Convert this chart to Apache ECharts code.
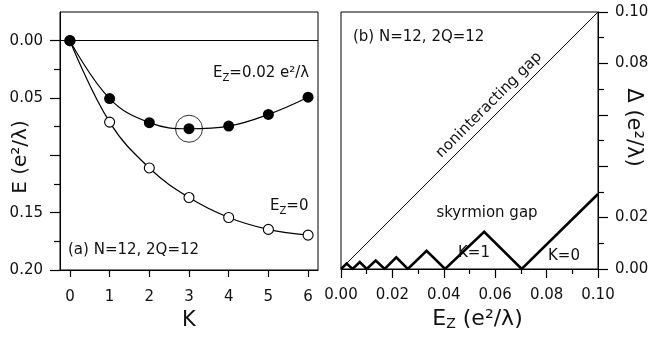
<!DOCTYPE html>
<html><head><meta charset="utf-8">
<script src="https://cdn.jsdelivr.net/npm/echarts@6/dist/echarts.min.js"></script>
<style>html,body{margin:0;padding:0;background:#fff}#c{width:650px;height:339px}</style>
</head><body><div id="c"></div>
<script>
// ---- Panel (a): energy vs K ----
const K = [0, 1, 2, 3, 4, 5, 6];
const E_ez002 = [0, 0.0505, 0.0715, 0.0768, 0.0745, 0.0643, 0.0493];
const E_ez0 = [0, 0.071, 0.111, 0.1368, 0.1542, 0.1646, 0.1696];
const minimumK = 3;
const leftYLabels = [0, 0.05, 0.15, 0.20];
const leftYMajor = [0, 0.05, 0.10, 0.15, 0.20];
const leftYMinor = [0.025, 0.075, 0.125, 0.175];
// ---- Panel (b): gaps vs Ez ----
const Ez_sky = [0, 0.0022, 0.0045, 0.0073, 0.010, 0.0135, 0.017, 0.0215, 0.026, 0.0333, 0.0405, 0.0557, 0.0703, 0.1];
const gap_sky = [0, 0.0021, 0, 0.0027, 0, 0.0033, 0, 0.0045, 0, 0.0071, 0, 0.0145, 0, 0.0292];
const Ez_nonint = [0, 0.1];
const gap_nonint = [0, 0.1];
const rightYLabels = [0, 0.02, 0.08, 0.10];

const FF = '"DejaVu Sans", sans-serif';
const C = '#111';
const chart = echarts.init(document.getElementById('c'), null, {renderer: 'canvas'});

const lbl = (extra) => Object.assign({color: C, fontFamily: FF, fontSize: 15}, extra || {});
const subRich = (fs, sub, drop) => ({
  m: {fontSize: fs, fontFamily: FF, color: C, fill: C, lineHeight: fs + 1, verticalAlign: 'top'},
  s: {fontSize: sub, fontFamily: FF, color: C, fill: C, lineHeight: sub, padding: [drop, 0, 0, 0], verticalAlign: 'top'}
});

const option = {
  animation: false,
  backgroundColor: '#fff',
  grid: [
    {left: 60, top: 12, width: 258, height: 258, show: true, borderColor: '#000', borderWidth: 1, outerBoundsMode: 'none', containLabel: false},
    {left: 341, top: 12, width: 257, height: 257, show: true, borderColor: '#000', borderWidth: 1, outerBoundsMode: 'none', containLabel: false}
  ],
  xAxis: [
    {gridIndex: 0, type: 'value', min: -0.25, max: 6.25,
     axisLine: {show: true, onZero: false, lineStyle: {color: '#000', width: 1}},
     axisTick: {show: true, customValues: K, length: 7, lineStyle: {color: '#000', width: 1.2}},
     axisLabel: {customValues: K, margin: 20, ...lbl(), formatter: v => String(Math.round(v))},
     splitLine: {show: false},
     name: 'K', nameLocation: 'middle', nameGap: 40, nameMoveOverlap: false,
     nameTextStyle: {fontFamily: FF, fontSize: 21, color: C}},
    {gridIndex: 1, type: 'value', min: 0, max: 0.1, interval: 0.02,
     axisLine: {show: true, onZero: false, lineStyle: {color: '#000', width: 1}},
     axisTick: {show: true, length: 9, lineStyle: {color: '#000', width: 1.2}},
     minorTick: {show: true, splitNumber: 2, length: 5, lineStyle: {color: '#000', width: 1.2}},
     axisLabel: {margin: 19, showMinLabel: true, showMaxLabel: true, ...lbl(), formatter: v => v.toFixed(2)},
     splitLine: {show: false}, minorSplitLine: {show: false},
     name: '{m|E}{s|Z}{m| (e²/λ)}', nameLocation: 'middle', nameGap: 39, nameMoveOverlap: false,
     nameTextStyle: {padding: [0, 0, 0, 16], rich: subRich(22, 14, 9)}}
  ],
  yAxis: [
    {gridIndex: 0, type: 'value', inverse: true, min: -0.025, max: 0.2, position: 'left', offset: 0,
     axisLine: {show: true, onZero: false, lineStyle: {color: '#000', width: 1}},
     axisTick: {show: true, customValues: leftYMajor, length: 10, lineStyle: {color: '#000', width: 1.2}},
     axisLabel: {customValues: leftYLabels, margin: 17, ...lbl(), formatter: v => v.toFixed(2)},
     splitLine: {show: false},
     name: 'E (e²/λ)', nameLocation: 'middle', nameGap: 29, nameMoveOverlap: false,
     nameTextStyle: {fontFamily: FF, fontSize: 20, color: C, padding: [0, 32, 0, 0]}},
    {gridIndex: 0, type: 'value', inverse: true, min: -0.025, max: 0.2, position: 'left', offset: 0,
     axisLine: {show: false, onZero: false},
     axisTick: {show: true, customValues: leftYMinor, length: 6, lineStyle: {color: '#000', width: 1.2}},
     axisLabel: {show: false}, splitLine: {show: false}},
    {gridIndex: 1, type: 'value', min: 0, max: 0.1, interval: 0.02, position: 'right',
     axisLine: {show: true, onZero: false, lineStyle: {color: '#000', width: 1}},
     axisTick: {show: true, length: 10, lineStyle: {color: '#000', width: 1.2}},
     minorTick: {show: true, splitNumber: 2, length: 6, lineStyle: {color: '#000', width: 1.2}},
     axisLabel: {customValues: rightYLabels, margin: 17, ...lbl(), formatter: v => v.toFixed(2)},
     splitLine: {show: false}, minorSplitLine: {show: false},
     name: 'Δ (e²/λ)', nameLocation: 'middle', nameGap: 25, nameRotate: -90, nameMoveOverlap: false,
     nameTextStyle: {fontFamily: FF, fontSize: 21, color: C, padding: [0, 26, 0, 0]}}
  ],
  series: [
    {type: 'line', xAxisIndex: 0, yAxisIndex: 0, smooth: 0.4,
     data: K.map((k, i) => [k, E_ez0[i]]),
     symbol: 'circle', symbolSize: 10,
     itemStyle: {color: '#fff', borderColor: '#000', borderWidth: 1.1}, lineStyle: {color: '#000', width: 1.2},
     markLine: {silent: true, symbol: 'none', label: {show: false},
                lineStyle: {color: '#000', width: 1, type: 'solid'}, data: [{yAxis: 0}]}},
    {type: 'line', xAxisIndex: 0, yAxisIndex: 0, smooth: 0.4,
     data: K.map((k, i) => [k, E_ez002[i]]),
     symbol: 'circle', symbolSize: 11,
     itemStyle: {color: '#000'}, lineStyle: {color: '#000', width: 1.2}},
    {type: 'scatter', xAxisIndex: 0, yAxisIndex: 0, z: 5,
     data: [[minimumK, E_ez002[K.indexOf(minimumK)]]],
     symbol: 'circle', symbolSize: 27,
     itemStyle: {color: 'rgba(0,0,0,0)', borderColor: '#000', borderWidth: 1}},
    {type: 'line', xAxisIndex: 1, yAxisIndex: 2, symbol: 'none',
     data: Ez_nonint.map((x, i) => [x, gap_nonint[i]]),
     lineStyle: {color: '#000', width: 1}},
    {type: 'line', xAxisIndex: 1, yAxisIndex: 2, symbol: 'none',
     data: Ez_sky.map((x, i) => [x, gap_sky[i]]),
     lineStyle: {color: '#000', width: 2.6, join: 'miter'}}
  ],
  graphic: [
    {type: 'text', x: 213, y: 66, style: {text: '{m|E}{s|Z}{m|=0.02 e²/λ}', rich: subRich(15, 10, 7), fill: C}},
    {type: 'text', x: 270, y: 199, style: {text: '{m|E}{s|Z}{m|=0}', rich: subRich(15, 10, 7), fill: C}},
    {type: 'text', x: 68, y: 250, style: {text: '(a) N=12, 2Q=12', font: '15px ' + FF, fill: C, textVerticalAlign: 'middle', verticalAlign: 'middle'}},
    {type: 'text', x: 353, y: 37, style: {text: '(b) N=12, 2Q=12', font: '15px ' + FF, fill: C, textVerticalAlign: 'middle', verticalAlign: 'middle'}},
    {type: 'text', x: 487, y: 213, style: {text: 'skyrmion gap', font: '15px ' + FF, fill: C, textAlign: 'center', align: 'center', textVerticalAlign: 'middle', verticalAlign: 'middle'}},
    {type: 'text', x: 489, y: 105, rotation: Math.PI / 4, style: {text: 'noninteracting gap', font: '15px ' + FF, fill: C, textAlign: 'center', align: 'center', textVerticalAlign: 'middle', verticalAlign: 'middle'}},
    {type: 'text', x: 474, y: 253, style: {text: 'K=1', font: '15px ' + FF, fill: C, textAlign: 'center', align: 'center', textVerticalAlign: 'middle', verticalAlign: 'middle'}},
    {type: 'text', x: 564, y: 256, style: {text: 'K=0', font: '15px ' + FF, fill: C, textAlign: 'center', align: 'center', textVerticalAlign: 'middle', verticalAlign: 'middle'}}
  ]
};
chart.setOption(option);
</script>
</body></html>
